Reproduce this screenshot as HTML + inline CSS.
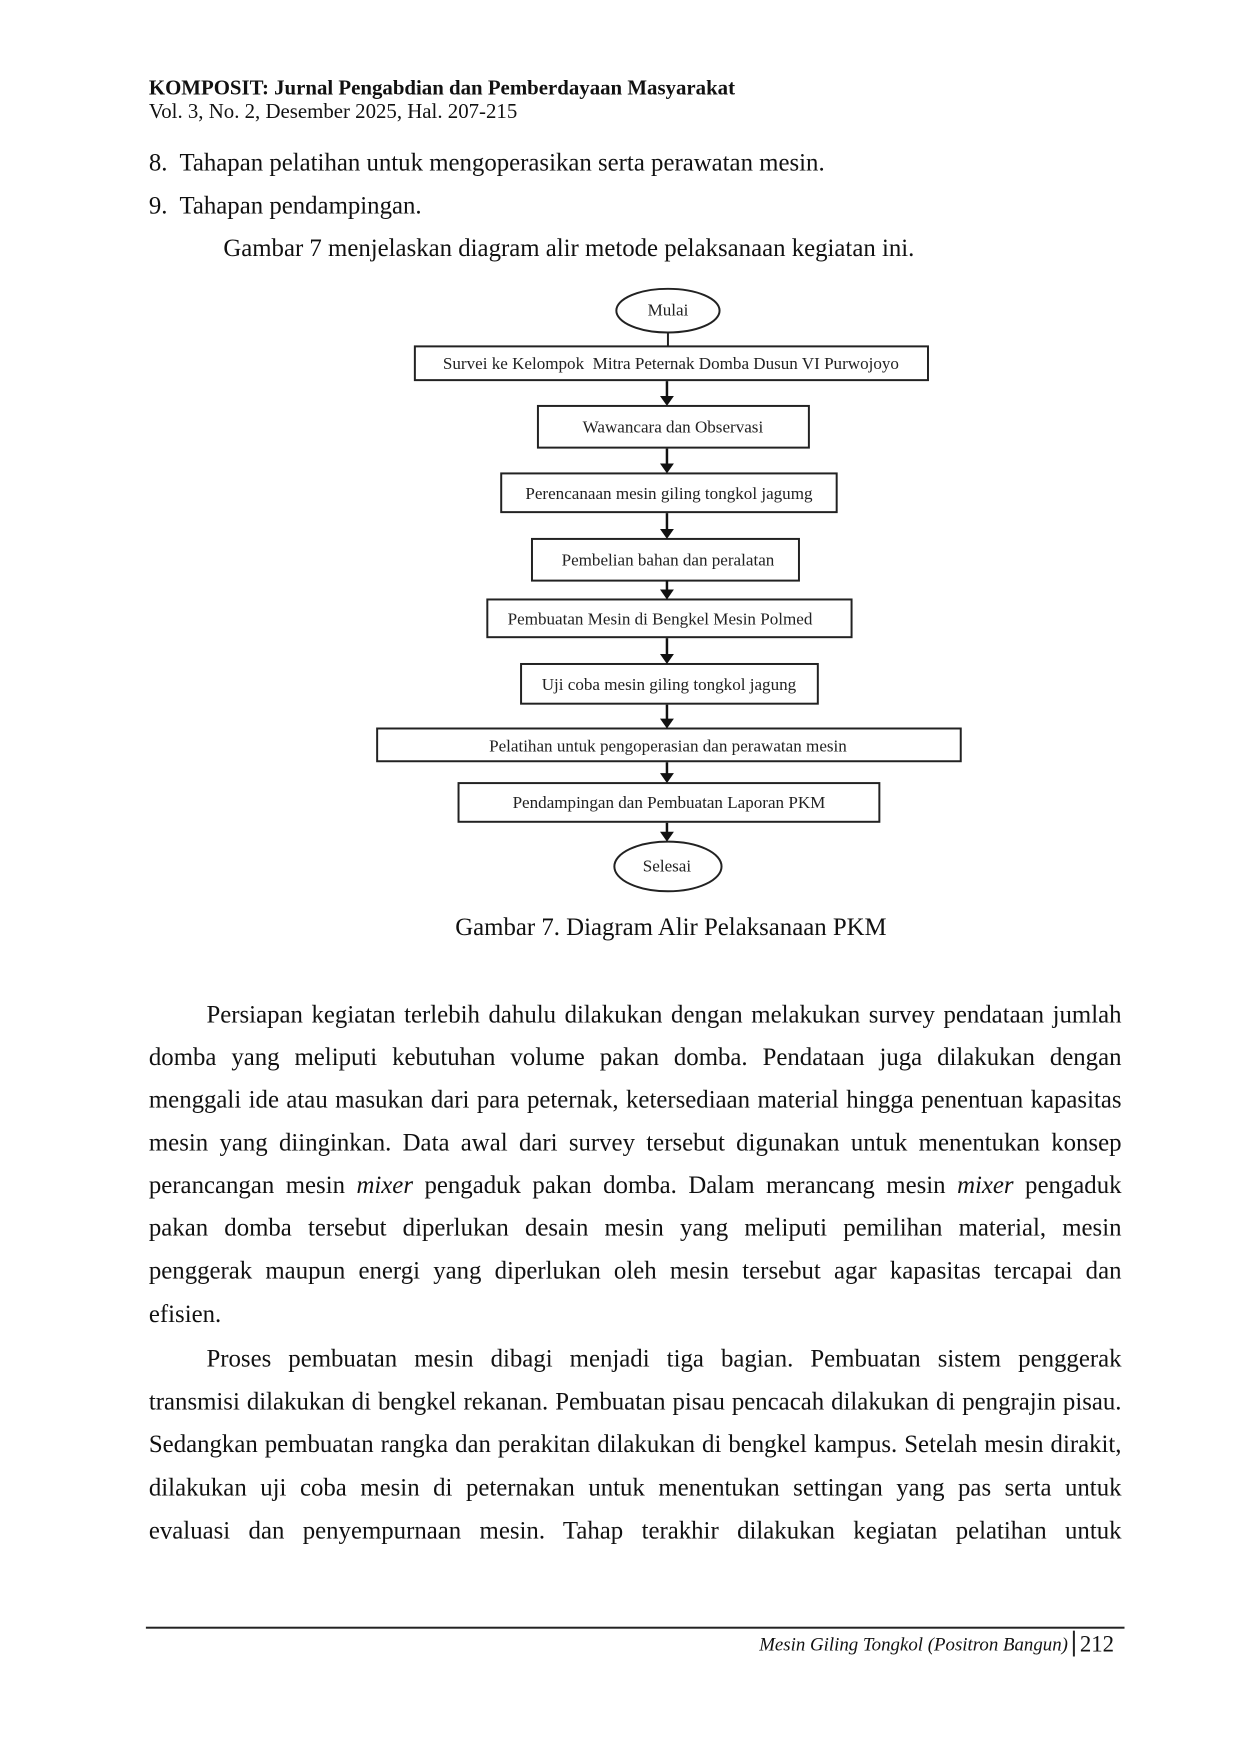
<!DOCTYPE html>
<html><head><meta charset="utf-8"><style>
body{margin:0;background:#fff;}
#o{position:relative;width:1240px;height:1754px;overflow:hidden;}
#p{position:absolute;left:0;top:0;width:1240px;height:1754px;transform:scale(0.9925);transform-origin:0 0;font-family:"Liberation Serif",serif;color:#111;}
.t{position:absolute;white-space:nowrap;line-height:1;}
.j{position:absolute;left:150px;width:980px;font-size:25px;line-height:1;text-align:justify;text-align-last:justify;white-space:nowrap;}
.j.l{text-align-last:left;}
</style></head><body><div id="o"><div id="p">
<div class="t" style="left:150px;top:78px;font-size:21px;font-weight:bold;">KOMPOSIT: Jurnal Pengabdian dan Pemberdayaan Masyarakat</div>
<div class="t" style="left:150px;top:102px;font-size:21px;">Vol. 3, No. 2, Desember 2025, Hal. 207-215</div>
<div class="t" style="left:150px;top:152px;font-size:25px;">8.&nbsp; Tahapan pelatihan untuk mengoperasikan serta perawatan mesin.</div>
<div class="t" style="left:150px;top:195px;font-size:25px;">9.&nbsp; Tahapan pendampingan.</div>
<div class="t" style="left:225px;top:238px;font-size:25px;">Gambar 7 menjelaskan diagram alir metode pelaksanaan kegiatan ini.</div>

<svg style="position:absolute;left:0;top:0" width="1240" height="1000" font-family="Liberation Serif,serif" font-size="17.2" text-anchor="middle">
<g fill="none" stroke="#222" stroke-width="2">
<ellipse cx="673" cy="313" rx="52" ry="22"/>
<rect x="418" y="349" width="517" height="34"/>
<rect x="542" y="409" width="273" height="42"/>
<rect x="505" y="477" width="338" height="39"/>
<rect x="536" y="543" width="269" height="42"/>
<rect x="491" y="604" width="367" height="38"/>
<rect x="525" y="669" width="299" height="40"/>
<rect x="380" y="734" width="588" height="33"/>
<rect x="462" y="789" width="424" height="39"/>
<ellipse cx="673" cy="873" rx="54" ry="25"/>
<path d="M673 335V349"/>
</g>
<g stroke="#111" stroke-width="2.5">
<line x1="672" y1="384" x2="672" y2="401"/><line x1="672" y1="452" x2="672" y2="469"/><line x1="672" y1="517" x2="672" y2="535"/><line x1="672" y1="585" x2="672" y2="596"/><line x1="672" y1="643" x2="672" y2="661"/><line x1="672" y1="710" x2="672" y2="726"/><line x1="672" y1="768" x2="672" y2="781"/><line x1="672" y1="829" x2="672" y2="839"/>
</g>
<g fill="#111">
<path d="M665 399h14l-7 10z"/><path d="M665 467h14l-7 10z"/><path d="M665 533h14l-7 10z"/><path d="M665 594h14l-7 10z"/><path d="M665 659h14l-7 10z"/><path d="M665 724h14l-7 10z"/><path d="M665 779h14l-7 10z"/><path d="M665 838h14l-7 10z"/>
</g>
<g fill="#222">
<text x="673" y="318">Mulai</text>
<text x="676" y="372">Survei ke Kelompok&#160; Mitra Peternak Domba Dusun VI Purwojoyo</text>
<text x="678" y="436">Wawancara dan Observasi</text>
<text x="674" y="503">Perencanaan mesin giling tongkol jagumg</text>
<text x="673" y="570">Pembelian bahan dan peralatan</text>
<text x="665" y="629">Pembuatan Mesin di Bengkel Mesin Polmed</text>
<text x="674" y="695">Uji coba mesin giling tongkol jagung</text>
<text x="673" y="757">Pelatihan untuk pengoperasian dan perawatan mesin</text>
<text x="674" y="814">Pendampingan dan Pembuatan Laporan PKM</text>
<text x="672" y="878">Selesai</text>
</g>
</svg>

<div class="t" style="left:0;width:1352px;text-align:center;top:922px;font-size:25px;">Gambar 7. Diagram Alir Pelaksanaan PKM</div>

<div class="j" style="top:1010px;left:208px;width:922px;">Persiapan kegiatan terlebih dahulu dilakukan dengan melakukan survey pendataan jumlah</div>
<div class="j" style="top:1053px;">domba yang meliputi kebutuhan volume pakan domba. Pendataan juga dilakukan dengan</div>
<div class="j" style="top:1096px;">menggali ide atau masukan dari para peternak, ketersediaan material hingga penentuan kapasitas</div>
<div class="j" style="top:1139px;">mesin yang diinginkan. Data awal dari survey tersebut digunakan untuk menentukan konsep</div>
<div class="j" style="top:1182px;">perancangan mesin <i>mixer</i> pengaduk pakan domba. Dalam merancang mesin <i>mixer</i> pengaduk</div>
<div class="j" style="top:1225px;">pakan domba tersebut diperlukan desain mesin yang meliputi pemilihan material, mesin</div>
<div class="j" style="top:1268px;">penggerak maupun energi yang diperlukan oleh mesin tersebut agar kapasitas tercapai dan</div>
<div class="j l" style="top:1312px;">efisien.</div>
<div class="j" style="top:1357px;left:208px;width:922px;">Proses pembuatan mesin dibagi menjadi tiga bagian. Pembuatan sistem penggerak</div>
<div class="j" style="top:1400px;">transmisi dilakukan di bengkel rekanan. Pembuatan pisau pencacah dilakukan di pengrajin pisau.</div>
<div class="j" style="top:1443px;">Sedangkan pembuatan rangka dan perakitan dilakukan di bengkel kampus. Setelah mesin dirakit,</div>
<div class="j" style="top:1487px;">dilakukan uji coba mesin di peternakan untuk menentukan settingan yang pas serta untuk</div>
<div class="j" style="top:1530px;">evaluasi dan penyempurnaan mesin. Tahap terakhir dilakukan kegiatan pelatihan untuk</div>

<div style="position:absolute;left:147px;top:1639px;width:986px;height:1.5px;background:#222;"></div>
<div class="t" style="right:164px;top:1648px;font-size:19px;font-style:italic;">Mesin Giling Tongkol (Positron Bangun)</div>
<div style="position:absolute;left:1081px;top:1643px;width:1.5px;height:26px;background:#222;"></div>
<div class="t" style="left:1088px;top:1645px;font-size:23px;">212</div>
</div></div></body></html>
